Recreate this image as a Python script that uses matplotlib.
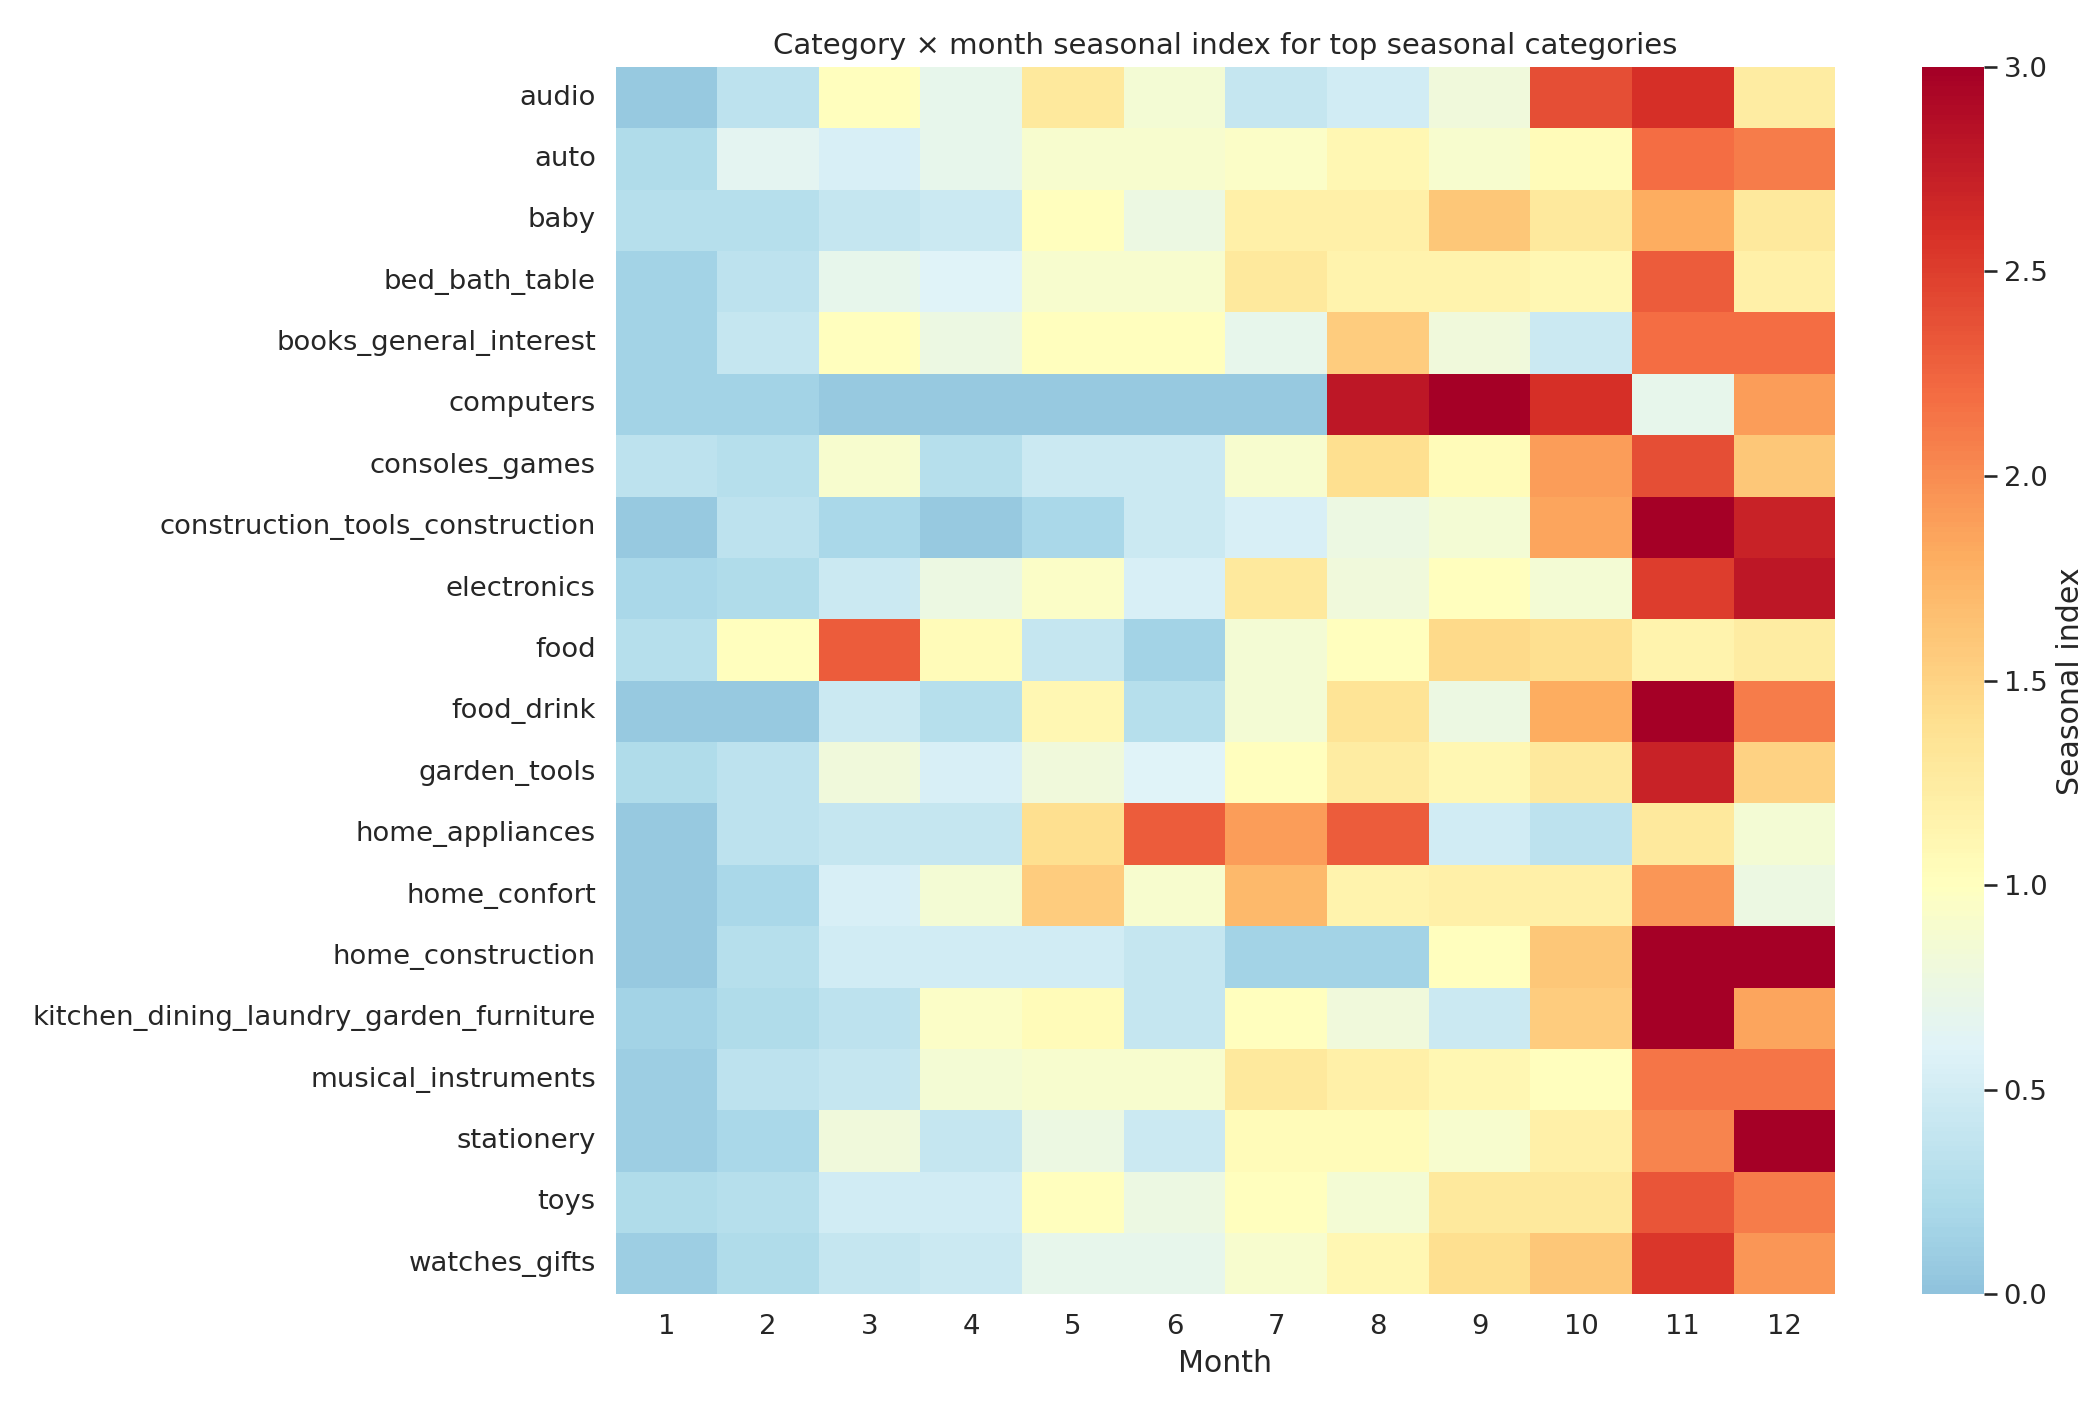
import numpy as np
import pandas as pd
import matplotlib
matplotlib.use("Agg")
import matplotlib.pyplot as plt
import seaborn as sns

categories = ["audio", "auto", "baby", "bed_bath_table", "books_general_interest",
              "computers", "consoles_games", "construction_tools_construction",
              "electronics", "food", "food_drink", "garden_tools", "home_appliances",
              "home_confort", "home_construction",
              "kitchen_dining_laundry_garden_furniture", "musical_instruments",
              "stationery", "toys", "watches_gifts"]
months = list(range(1, 13))

values = [
    [0.05, 0.35, 1.0, 0.7, 1.3, 0.85, 0.4, 0.5, 0.8, 2.4, 2.6, 1.25],
    [0.25, 0.65, 0.55, 0.7, 0.9, 0.9, 0.95, 1.1, 0.9, 1.05, 2.2, 2.1],
    [0.3, 0.3, 0.4, 0.45, 1.0, 0.75, 1.2, 1.2, 1.6, 1.3, 1.8, 1.3],
    [0.15, 0.35, 0.7, 0.6, 0.9, 0.9, 1.3, 1.15, 1.15, 1.1, 2.3, 1.2],
    [0.15, 0.4, 1.0, 0.75, 1.0, 1.0, 0.7, 1.55, 0.8, 0.45, 2.2, 2.2],
    [0.15, 0.15, 0.05, 0.05, 0.05, 0.05, 0.05, 2.8, 3.0, 2.6, 0.7, 1.9],
    [0.35, 0.3, 0.9, 0.3, 0.45, 0.45, 0.9, 1.4, 1.05, 1.9, 2.4, 1.6],
    [0.05, 0.35, 0.2, 0.05, 0.2, 0.45, 0.55, 0.75, 0.85, 1.85, 3.0, 2.7],
    [0.2, 0.25, 0.45, 0.75, 0.95, 0.55, 1.3, 0.8, 1.0, 0.85, 2.5, 2.8],
    [0.3, 1.0, 2.3, 1.05, 0.4, 0.15, 0.85, 1.0, 1.45, 1.4, 1.15, 1.25],
    [0.05, 0.05, 0.45, 0.3, 1.1, 0.3, 0.85, 1.35, 0.75, 1.8, 3.0, 2.1],
    [0.25, 0.35, 0.8, 0.55, 0.8, 0.6, 1.0, 1.25, 1.1, 1.3, 2.7, 1.5],
    [0.05, 0.35, 0.4, 0.4, 1.4, 2.3, 1.9, 2.3, 0.5, 0.35, 1.3, 0.85],
    [0.05, 0.2, 0.55, 0.85, 1.55, 0.9, 1.7, 1.15, 1.2, 1.2, 1.95, 0.75],
    [0.05, 0.3, 0.5, 0.5, 0.5, 0.4, 0.15, 0.15, 1.0, 1.6, 3.0, 3.0],
    [0.15, 0.25, 0.35, 0.95, 1.05, 0.4, 1.0, 0.8, 0.45, 1.55, 3.0, 1.85],
    [0.1, 0.35, 0.4, 0.85, 0.9, 0.9, 1.3, 1.2, 1.1, 1.0, 2.15, 2.15],
    [0.1, 0.2, 0.8, 0.4, 0.75, 0.45, 1.05, 1.05, 0.9, 1.2, 2.05, 3.0],
    [0.25, 0.3, 0.5, 0.5, 1.0, 0.75, 1.0, 0.85, 1.3, 1.3, 2.35, 2.1],
    [0.1, 0.25, 0.4, 0.45, 0.7, 0.7, 0.9, 1.1, 1.4, 1.6, 2.55, 1.95],
]

df = pd.DataFrame(values, index=categories, columns=months)

sns.set_theme(style="white", font_scale=1.2)
fig, ax = plt.subplots(figsize=(14.0, 9.4), dpi=150)
sns.heatmap(df, cmap="RdYlBu_r", center=1, vmin=0, vmax=3, ax=ax,
            cbar_kws={"label": "Seasonal index", "fraction": 0.1, "pad": 0.06})
ax.set_title("Category × month seasonal index for top seasonal categories",
             fontsize=14)
ax.set_xlabel("Month")
ax.set_ylabel("")
ax.tick_params(axis="y", rotation=0)
plt.tight_layout()
plt.savefig("out.png", dpi=150)
